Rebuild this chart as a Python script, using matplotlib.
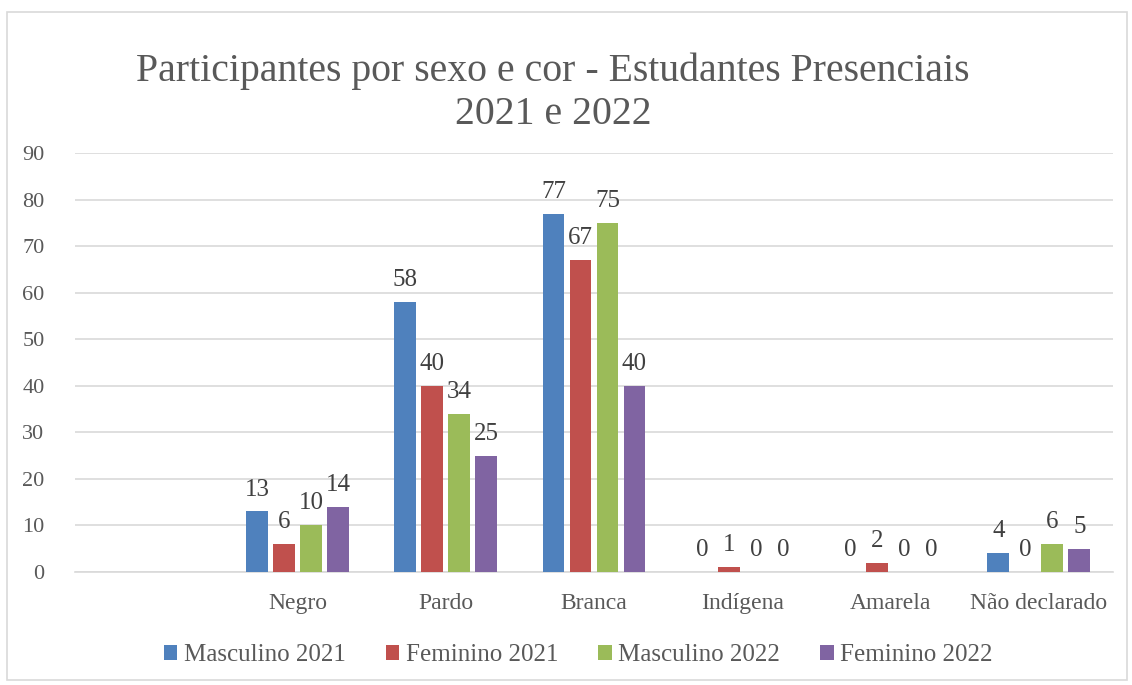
import matplotlib
matplotlib.use("Agg")
import matplotlib.pyplot as plt
from matplotlib.patches import Rectangle
import numpy as np

categories = ["", "Negro", "Pardo", "Branca", "Indígena", "Amarela", "Não declarado"]
series_names = ["Masculino 2021", "Feminino 2021", "Masculino 2022", "Feminino 2022"]
masc_2021 = [None, 13, 58, 77, 0, 0, 4]
fem_2021 = [None, 6, 40, 67, 1, 2, 0]
masc_2022 = [None, 10, 34, 75, 0, 0, 6]
fem_2022 = [None, 14, 25, 40, 0, 0, 5]
yticks = [0, 10, 20, 30, 40, 50, 60, 70, 80, 90]
title_lines = ["Participantes por sexo e cor - Estudantes Presenciais", "2021 e 2022"]

colors = ["#4F81BD", "#C0504D", "#9BBB59", "#8064A2"]
txt = "#595959"
plt.rcParams['font.family'] = ['Liberation Serif', 'DejaVu Serif']

W, H = 1132, 685
fig = plt.figure(figsize=(W / 100, H / 100), dpi=100)
fig.patches.append(Rectangle((7 / W, 5 / H), 1120 / W, 668 / H, transform=fig.transFigure,
                             fill=False, edgecolor="#D9D9D9", linewidth=1.2))
ax = fig.add_axes([75 / W, 113 / H, 1038 / W, 419 / H])

x = np.arange(len(categories))
w = 0.148
step = 0.182
all_series = [masc_2021, fem_2021, masc_2022, fem_2022]
for i, (vals, name, c) in enumerate(zip(all_series, series_names, colors)):
    xs = [xi + (i - 1.5) * step for xi, v in zip(x, vals) if v is not None]
    vs = [v for v in vals if v is not None]
    bars = ax.bar(xs, vs, width=w, color=c, label=name, zorder=3)
    for b, v in zip(bars, vs):
        ax.annotate(str(v), (b.get_x() + b.get_width() / 2, v), xytext=(0, 11.5),
                    textcoords="offset points", ha="center", va="baseline",
                    fontsize=18, color="#404040")

ax.set_xlim(-0.5, len(categories) - 0.5)
ax.set_ylim(0, 90)
ax.set_yticks(yticks)
ax.set_xticks(x)
ax.set_xticklabels(categories)
ax.tick_params(axis="both", length=0, labelcolor=txt)
ax.tick_params(axis="y", labelsize=16, pad=22)
ax.tick_params(axis="x", labelsize=17, pad=15)
ax.grid(axis="y", color="#D9D9D9", linewidth=1.2, zorder=0)
for s in ["top", "right", "left"]:
    ax.spines[s].set_visible(False)
ax.spines["bottom"].set_color("#D9D9D9")
ax.spines["bottom"].set_linewidth(1.2)

fig.text(553 / W, 1 - 81 / H, title_lines[0], ha="center", va="baseline", fontsize=28.6, color=txt)
fig.text(553 / W, 1 - 124 / H, title_lines[1], ha="center", va="baseline", fontsize=28.6, color=txt)

leg = fig.legend(loc="center", bbox_to_anchor=(578 / W, 1 - 655 / H), ncol=4, frameon=False,
                 handlelength=0.55, handleheight=0.55, handletextpad=0.25, columnspacing=1.6,
                 prop={"size": 18})
for t in leg.get_texts():
    t.set_color(txt)

fig.savefig("out.png", dpi=100, facecolor="white")
